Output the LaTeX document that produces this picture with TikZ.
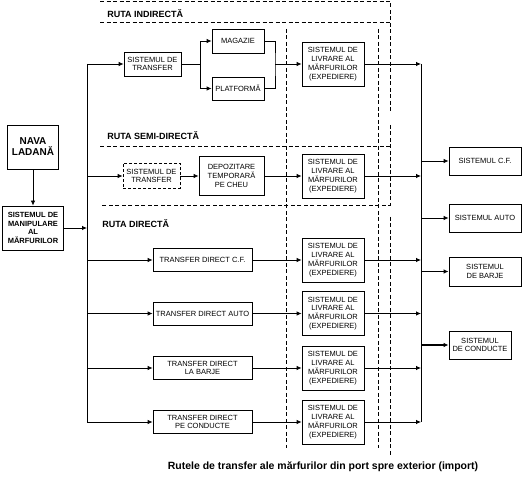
\documentclass[tikz,border=0pt]{standalone}
\usepackage{fontspec}
\setmainfont{Liberation Sans}
\usetikzlibrary{arrows.meta}

\tikzset{
	box/.style={draw, line width=0.8pt, inner sep=0pt, align=center,
		font=\fontsize{7.5}{8.8}\selectfont},
	livr/.style={box, minimum width=62pt, minimum height=44pt},
	direct/.style={box, minimum width=99pt, minimum height=23pt},
	outbox/.style={box, minimum width=72pt, minimum height=28pt},
	routelabel/.style={anchor=base west, inner sep=0pt,
		font=\bfseries\fontsize{9}{10}\selectfont},
	zone/.style={line width=0.8pt, dash pattern=on 4pt off 2.5pt},
	arr/.style={-{Latex[length=5pt,width=4.5pt]}},
}

\newcommand{\livrtext}{SISTEMUL DE\\LIVRARE AL\\MĂRFURILOR\\(EXPEDIERE)}

\begin{document}
\begin{tikzpicture}[x=1pt, y=-1pt, line width=0.8pt]

	\useasboundingbox (0,0) rectangle (523,478);

	% zones
	\draw[zone] (100,1) -- (390,1) -- (390,112);
	\draw[zone] (100,22) -- (390,22);
	\draw[zone] (100,146) -- (390,146);
	\draw[zone] (390,125) -- (390,205) -- (100,205);
	\draw[zone] (390,217) -- (390,457);
	\draw[zone] (286,29) -- (286,448);
	\draw[zone] (378,29) -- (378,448);

	\node (lblind) [routelabel] at (107,17.5) {RUTA INDIRECTĂ};
	\node (lblsemi) [routelabel] at (107,140) {RUTA SEMI-DIRECTĂ};
	\node (lbldir) [routelabel] at (102,228) {RUTA DIRECTĂ};

	% ship side
	\node (nava) [box, minimum width=51pt, minimum height=44pt,
		font=\bfseries\fontsize{10}{11}\selectfont] at (33,147) {NAVA\\LADANĂ};
	\node (manip) [box, minimum width=61pt, minimum height=44pt,
		font=\bfseries\fontsize{7.5}{8.8}\selectfont] at (33,228)
		{SISTEMUL DE\\MANIPULARE\\AL\\MĂRFURILOR};

	% indirect route
	\node (trans1) [box, minimum width=57pt, minimum height=24pt] at (152.5,64) {SISTEMUL DE\\TRANSFER};
	\node (magazie) [box, minimum width=52pt, minimum height=24pt] at (238,41) {MAGAZIE};
	\node (platforma) [box, minimum width=52pt, minimum height=23pt] at (238,88.5) {PLATFORMĂ};
	\node (livr1) [livr] at (333,64) {\livrtext};

	% semi-direct route
	\node (trans2) [box, dashed, dash pattern=on 3pt off 2pt, minimum width=57pt, minimum height=25pt]
		at (151.5,176) {SISTEMUL DE\\TRANSFER};
	\node (depoz) [box, minimum width=65pt, minimum height=39pt] at (231.5,176) {DEPOZITARE\\TEMPORARĂ\\PE CHEU};
	\node (livr2) [livr] at (333,176) {\livrtext};

	% direct routes
	\node (cf) [direct] at (202.5,260) {TRANSFER DIRECT C.F.};
	\node (auto) [direct] at (202.5,313.5) {TRANSFER DIRECT AUTO};
	\node (barje) [direct] at (202.5,368) {TRANSFER DIRECT\\LA BARJE};
	\node (cond) [direct] at (202.5,422) {TRANSFER DIRECT\\PE CONDUCTE};
	\node (livr3) [livr] at (333,260) {\livrtext};
	\node (livr4) [livr] at (333,313.5) {\livrtext};
	\node (livr5) [livr] at (333,368) {\livrtext};
	\node (livr6) [livr] at (333,422) {\livrtext};

	% exterior systems
	\node (outcf) [outbox] at (485,161) {SISTEMUL C.F.};
	\node (outauto) [outbox] at (485,218) {SISTEMUL AUTO};
	\node (outbarje) [outbox, minimum height=29pt] at (485,271.5) {SISTEMUL\\DE BARJE};
	\node (outcond) [outbox, minimum width=62pt] at (480,345) {SISTEMUL\\DE CONDUCTE};

	\coordinate (busl) at (87,0);
	\coordinate (busr) at (421,0);
	\coordinate (fork) at (200,64);
	\coordinate (join) at (275,64);

	% buses
	\draw (busl |- trans1.west) -- (busl |- cond.west);
	\draw (busr |- livr1.east) -- (busr |- livr6.east);

	\path[arr]
	(nava) edge (manip)
	(manip.east) edge (busl |- manip.east)
	(busl |- trans1.west) edge (trans1.west)
	(busl |- trans2.west) edge (trans2.west)
	(busl |- cf.west) edge (cf.west)
	(busl |- auto.west) edge (auto.west)
	(busl |- barje.west) edge (barje.west)
	(busl |- cond.west) edge (cond.west);

	\draw (trans1.east) -- (fork);
	\draw[arr] (fork) |- (magazie.west);
	\draw[arr] (fork) |- (platforma.west);
	\draw (magazie.east) -| (join) |- (platforma.east);

	\path[arr]
	(join) edge (livr1.west)
	(trans2) edge (depoz)
	(depoz) edge (livr2)
	(cf) edge (livr3)
	(auto) edge (livr4)
	(barje) edge (livr5)
	(cond) edge (livr6)
	(livr1.east) edge (busr |- livr1.east)
	(livr2.east) edge (busr |- livr2.east)
	(livr3.east) edge (busr |- livr3.east)
	(livr4.east) edge (busr |- livr4.east)
	(livr5.east) edge (busr |- livr5.east)
	(livr6.east) edge (busr |- livr6.east)
	(busr |- outcf.west) edge (outcf.west)
	(busr |- outauto.west) edge (outauto.west)
	(busr |- outbarje.west) edge[line width=1.6pt] (outbarje.west)
	(busr |- outcond.west) edge[line width=1.6pt] (outcond.west);

	\node (caption) [anchor=base, inner sep=0pt, font=\bfseries\fontsize{10.5}{12}\selectfont]
		at (323,469.5) {Rutele de transfer ale mărfurilor din port spre exterior (import)};

\end{tikzpicture}
\end{document}
